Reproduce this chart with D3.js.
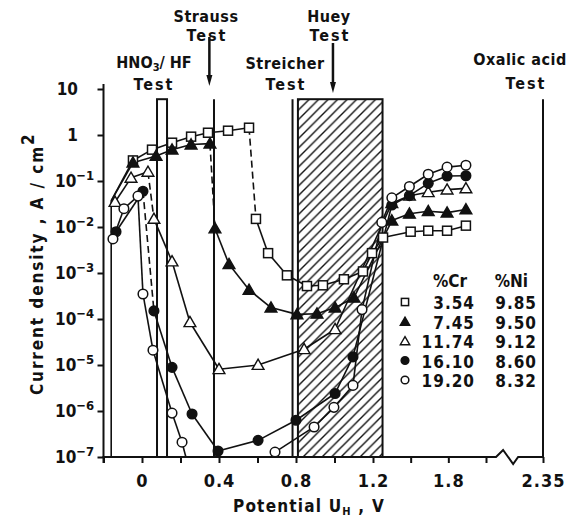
<!DOCTYPE html>
<html>
<head>
<meta charset="utf-8">
<script src="https://cdn.jsdelivr.net/npm/d3@7"></script>
<style>
body { margin: 0; background: #fff; }
text { font-family: "Liberation Sans Narrow", "DejaVu Sans Condensed", "Liberation Sans", Arial, sans-serif; font-weight: bold; fill: #111; }
</style>
</head>
<body>
<svg></svg>
<script>
var w = 585, h = 517;

// ---- data (potential in V, current density in A/cm2) ----
// 3.54 Cr / 9.85 Ni, open squares
var sqV = [-0.047, 0.052, 0.156, 0.255, 0.343, 0.447, 0.556, 0.592, 0.655, 0.753, 0.857, 0.940, 1.049, 1.148, 1.195, 1.28, 1.50, 1.64, 1.79, 1.94];
var sqI = [0.28, 0.48, 0.68, 0.92, 1.12, 1.24, 1.44, 0.015, 2.7e-3, 8.9e-4, 5.2e-4, 5.4e-4, 7.3e-4, 1.08e-3, 2.7e-3, 5.9e-3, 7.9e-3, 8.3e-3, 8.3e-3, 0.0107];
var sqDash = [6];
// 7.45 Cr / 9.50 Ni, filled triangles
var ftV = [-0.047, 0.073, 0.156, 0.255, 0.353, 0.379, 0.452, 0.556, 0.670, 0.805, 0.909, 1.003, 1.101, 1.35, 1.49, 1.64, 1.79, 1.94];
var ftI = [0.25, 0.35, 0.48, 0.62, 0.65, 9.3e-3, 1.55e-3, 4.3e-4, 1.77e-4, 1.26e-4, 1.3e-4, 1.77e-4, 2.9e-4, 0.0138, 0.0194, 0.022, 0.0205, 0.024];
var ftDash = [4];
// 11.74 Cr / 9.12 Ni, open triangles
var otV = [-0.140, -0.057, 0.031, 0.062, 0.156, 0.249, 0.400, 0.603, 0.842, 1.003, 1.35, 1.49, 1.64, 1.79, 1.94];
var otI = [0.035, 0.117, 0.158, 0.015, 1.78e-3, 8.5e-5, 8.1e-6, 1e-5, 2.2e-5, 6e-5, 0.033, 0.048, 0.057, 0.065, 0.069];
var otDash = [2];
// 16.10 Cr / 8.60 Ni, filled circles
var fcV = [-0.135, 0.005, 0.062, 0.156, 0.260, 0.395, 0.603, 0.800, 1.003, 1.096, 1.35, 1.49, 1.64, 1.79, 1.94];
var fcI = [7.9e-3, 0.06, 1.5e-4, 8.9e-6, 8.6e-7, 1.35e-7, 2.3e-7, 6.3e-7, 2.4e-6, 1.5e-5, 0.030, 0.048, 0.089, 0.128, 0.13];
var fcDash = [1];
// 19.20 Cr / 8.32 Ni, open circles (null = curve leaves the chart)
var ocV = [-0.151, -0.094, -0.021, 0.005, 0.057, 0.156, 0.208, 0.26, 0.45, 0.691, 0.894, 0.997, 1.096, 1.143, 1.27, 1.35, 1.49, 1.64, 1.79, 1.94];
var ocI = [5.5e-3, 0.025, 0.047, 3.5e-4, 2.1e-5, 9e-7, 2.1e-7, 3e-8, null, 1.28e-7, 4.5e-7, 1.2e-6, 3.6e-6, 1.6e-4, 0.0126, 0.043, 0.076, 0.14, 0.2, 0.22];
var ocDash = [];
// common cathodic branch
var cathV = [-0.16, -0.16];
var cathI = [1e-7, 0.037];

var legendCr = ["3.54", "7.45", "11.74", "16.10", "19.20"];
var legendNi = ["9.85", "9.50", "9.12", "8.60", "8.32"];

var xTickVals = [-0.2, 0, 0.2, 0.4, 0.6, 0.8, 1.0, 1.2, 1.5, 1.8, 2.1, 2.35];
var xTickText = ["", "0", "", "0.4", "", "0.8", "", "1.2", "", "1.8", "", "2.35"];
var yTickVals = [10, 1, 1e-1, 1e-2, 1e-3, 1e-4, 1e-5, 1e-6, 1e-7];
var yTickExp = ["", "", "-1", "-2", "-3", "-4", "-5", "-6", "-7"];

// test windows
var hnoBand = [0.078, 0.13];
var straussV = 0.374;
var streicherV = 0.782;
var hueyBand = [0.81, 1.276];
var hueyArrowV = 0.992;
var straussArrowV = 0.35;
var oxalicV = 2.35;
var bandTop = 6;
var breakV = [2.144, 2.175, 2.219, 2.241];

// ---- scales ----
var x = d3.scaleLinear().domain([-0.2, 1.2, 2.1, 2.35]).range([103.5, 373, 486, 543]);
var y = d3.scaleLog().domain([1e-7, 10]).range([457, 89]);

var svg = d3.select("svg")
    .attr("width", w)
    .attr("height", h)

var defs = svg.append("defs")

var hatch = defs.append("pattern")
    .attr("id", "hatch")
    .attr("patternUnits", "userSpaceOnUse")
    .attr("width", 9.5)
    .attr("height", 9.5)
hatch.append("path")
    .attr("d", "M-1,1 l2,-2 M0,9.5 l9.5,-9.5 M8.5,10.5 l2,-2")
    .attr("stroke", "#111")
    .attr("stroke-width", 1.4)

defs.append("clipPath").attr("id", "plotclip")
    .append("rect")
    .attr("x", x(-0.2)).attr("y", 60)
    .attr("width", x(2.35) - x(-0.2)).attr("height", y(1e-7) - 60)

// ---- test windows ----
svg.append("rect")
    .attr("x", x(hueyBand[0]))
    .attr("y", y(bandTop))
    .attr("width", x(hueyBand[1]) - x(hueyBand[0]))
    .attr("height", y(1e-7) - y(bandTop))
    .attr("fill", "url(#hatch)")
    .attr("stroke", "#111")
    .attr("stroke-width", 2)

svg.append("rect")
    .attr("x", x(hnoBand[0]))
    .attr("y", y(bandTop))
    .attr("width", x(hnoBand[1]) - x(hnoBand[0]))
    .attr("height", y(1e-7) - y(bandTop))
    .attr("fill", "none")
    .attr("stroke", "#111")
    .attr("stroke-width", 2)

;[straussV, streicherV, oxalicV].forEach(function(v) {
    svg.append("line")
        .attr("x1", x(v)).attr("x2", x(v))
        .attr("y1", y(bandTop)).attr("y2", y(1e-7))
        .attr("stroke", "#111")
        .attr("stroke-width", 2)
})

function arrow(v, y1, y2) {
    var g = svg.append("g")
    g.append("line")
        .attr("x1", x(v)).attr("x2", x(v))
        .attr("y1", y1).attr("y2", y2 - 8)
        .attr("stroke", "#111")
        .attr("stroke-width", 2.5)
    g.append("path")
        .attr("d", "M" + (x(v) - 3) + "," + (y2 - 11) + "L" + (x(v) + 3) + "," + (y2 - 11) + "L" + x(v) + "," + y2 + "Z")
        .attr("fill", "#111")
}
arrow(straussArrowV, 37, 86)
arrow(hueyArrowV, 43, 93)

// ---- axes ----
var xAxis = svg.append("g")
    .attr("transform", "translate(0," + y(1e-7) + ")")
    .call(d3.axisBottom(x).tickValues(xTickVals).tickSize(6).tickSizeOuter(0)
        .tickFormat(function(d, i) { return xTickText[i] }))
xAxis.select(".domain").remove()
xAxis.selectAll(".tick line").attr("stroke", "#111").attr("stroke-width", 2)
xAxis.selectAll(".tick text")
    .attr("y", 30).attr("dy", 0)
    .attr("font-size", 18)
    .attr("letter-spacing", 1)
    .style("fill", "#111")

var y0 = y(1e-7)
svg.append("path")
    .attr("d", "M" + (x(-0.2) - 1) + "," + y0 + "H" + x(breakV[0]) +
        "L" + x(breakV[1]) + "," + (y0 - 7) +
        "L" + x(breakV[2]) + "," + (y0 + 7) +
        "L" + x(breakV[3]) + "," + y0 + "H" + x(2.35))
    .attr("fill", "none")
    .attr("stroke", "#111")
    .attr("stroke-width", 2)

var yAxis = svg.append("g")
    .attr("transform", "translate(" + x(-0.2) + ",0)")
    .call(d3.axisLeft(y).tickValues(yTickVals).tickSize(6).tickSizeOuter(0).tickFormat(""))
yAxis.select(".domain").remove()
yAxis.selectAll(".tick line").attr("stroke", "#111").attr("stroke-width", 2)
svg.append("line")
    .attr("x1", x(-0.2)).attr("x2", x(-0.2))
    .attr("y1", y(10) - 5).attr("y2", y(1e-7) + 6)
    .attr("stroke", "#111")
    .attr("stroke-width", 2)

yTickVals.forEach(function(v, i) {
    var t = svg.append("text")
        .attr("y", y(v) + 6)
        .attr("font-size", 17)
    if (yTickExp[i] === "") {
        t.attr("x", 78).attr("text-anchor", "end").text(v >= 10 ? "10" : "1")
    } else {
        t.attr("x", 55).append("tspan").text("10")
        t.append("tspan")
            .attr("dy", -7)
            .attr("font-size", 13)
            .text(yTickExp[i].replace("-", "\u2212"))
    }
})

// axis titles
var yt = svg.append("text")
    .attr("transform", "translate(43,395) rotate(-90)")
    .attr("font-size", 17)
    .attr("letter-spacing", 1.9)
yt.append("tspan").text("Current   density , A / cm")
yt.append("tspan").attr("dy", -9).attr("font-size", 17).text("2")

var xt = svg.append("text")
    .attr("x", 233).attr("y", 512)
    .attr("font-size", 17)
    .attr("letter-spacing", 1.2)
xt.append("tspan").text("Potential  U")
xt.append("tspan").attr("dy", 3).attr("font-size", 11).text("H")
xt.append("tspan").attr("dy", -3).text(" , V")

// test labels
var labels = [
    { t: "Strauss", x: 206, y: 22 }, { t: "Test", x: 207, y: 41 },
    { t: "Huey", x: 329, y: 22 }, { t: "Test", x: 330, y: 41 },
    { t: "Streicher", x: 285, y: 69 }, { t: "Test", x: 286, y: 90 },
    { t: "Oxalic  acid", x: 520, y: 65 }, { t: "Test", x: 526, y: 89 },
    { t: "Test", x: 154, y: 90 }
]
labels.forEach(function(d) {
    svg.append("text")
        .attr("x", d.x).attr("y", d.y)
        .attr("text-anchor", "middle")
        .attr("font-size", 16)
        .attr("letter-spacing", d.t === "Test" ? 2 : 0.5)
        .text(d.t)
})
var hno = svg.append("text")
    .attr("x", 154).attr("y", 68)
    .attr("text-anchor", "middle")
    .attr("font-size", 16)
hno.append("tspan").text("HNO")
hno.append("tspan").attr("dy", 3).attr("font-size", 11).text("3")
hno.append("tspan").attr("dy", -3).text("/ HF")

// ---- curves ----
function pts(vs, is) {
    return vs.map(function(v, k) { return [v, is[k]] })
}
var series = [
    { p: pts(sqV, sqI), dash: sqDash, sym: "square", start: true },
    { p: pts(ftV, ftI), dash: ftDash, sym: "tri-filled", start: true },
    { p: pts(otV, otI), dash: otDash, sym: "tri-open" },
    { p: pts(fcV, fcI), dash: fcDash, sym: "circle-filled" },
    { p: pts(ocV, ocI), dash: ocDash, sym: "circle-open" }
]
var cath = pts(cathV, cathI)

var line = d3.line()
    .defined(function(d) { return d[1] != null })
    .x(function(d) { return x(d[0]) })
    .y(function(d) { return y(d[1]) })

var curves = svg.append("g").attr("clip-path", "url(#plotclip)")

curves.append("path")
    .attr("d", line(cath))
    .attr("fill", "none")
    .attr("stroke", "#111")
    .attr("stroke-width", 1.6)

series.forEach(function(s) {
    var p = s.start ? [cath[1]].concat(s.p) : s.p
    var off = s.start ? 1 : 0
    d3.pairs(p).forEach(function(pr, k) {
        if (pr[0][1] == null || pr[1][1] == null) return
        var dashed = s.dash.indexOf(k - off) >= 0
        curves.append("path")
            .attr("d", line(pr))
            .attr("fill", "none")
            .attr("stroke", "#111")
            .attr("stroke-width", 1.6)
            .attr("stroke-dasharray", dashed ? "7,4" : null)
    })
})

function marker(g, sym, cx, cy, scale) {
    var fill = (sym.indexOf("filled") >= 0) ? "#111" : "#fff"
    if (sym === "square") {
        var a = 9 * scale
        g.append("rect")
            .attr("x", cx - a / 2).attr("y", cy - a / 2)
            .attr("width", a).attr("height", a)
            .attr("fill", "#fff").attr("stroke", "#111").attr("stroke-width", 1.5)
    } else if (sym.indexOf("circle") === 0) {
        g.append("circle")
            .attr("cx", cx).attr("cy", cy).attr("r", 4.8 * scale)
            .attr("fill", fill).attr("stroke", "#111").attr("stroke-width", 1.5)
    } else {
        g.append("path")
            .attr("d", d3.symbol(d3.symbolTriangle, 60 * scale * scale)())
            .attr("transform", "translate(" + cx + "," + (cy + 1) + ")")
            .attr("fill", fill).attr("stroke", "#111").attr("stroke-width", 1.4)
    }
}

var marks = svg.append("g")
series.forEach(function(s) {
    s.p.forEach(function(d) {
        if (d[1] == null || d[1] < 1e-7) return
        marker(marks, s.sym, x(d[0]), y(d[1]), 1)
    })
})

// ---- legend ----
var lg = svg.append("g")
lg.append("text").attr("x", 467).attr("y", 287).attr("text-anchor", "end")
    .attr("font-size", 17).text("%Cr")
lg.append("text").attr("x", 528).attr("y", 287).attr("text-anchor", "end")
    .attr("font-size", 17).text("%Ni")
series.forEach(function(s, i) {
    var cy = 302 + i * 19.5
    marker(lg, s.sym, 405, cy, 0.8)
    lg.append("text").attr("x", 475).attr("y", cy + 7).attr("text-anchor", "end")
        .attr("font-size", 17).attr("letter-spacing", 1).text(legendCr[i])
    lg.append("text").attr("x", 537).attr("y", cy + 7).attr("text-anchor", "end")
        .attr("font-size", 17).attr("letter-spacing", 1).text(legendNi[i])
})
</script>
</body>
</html>
